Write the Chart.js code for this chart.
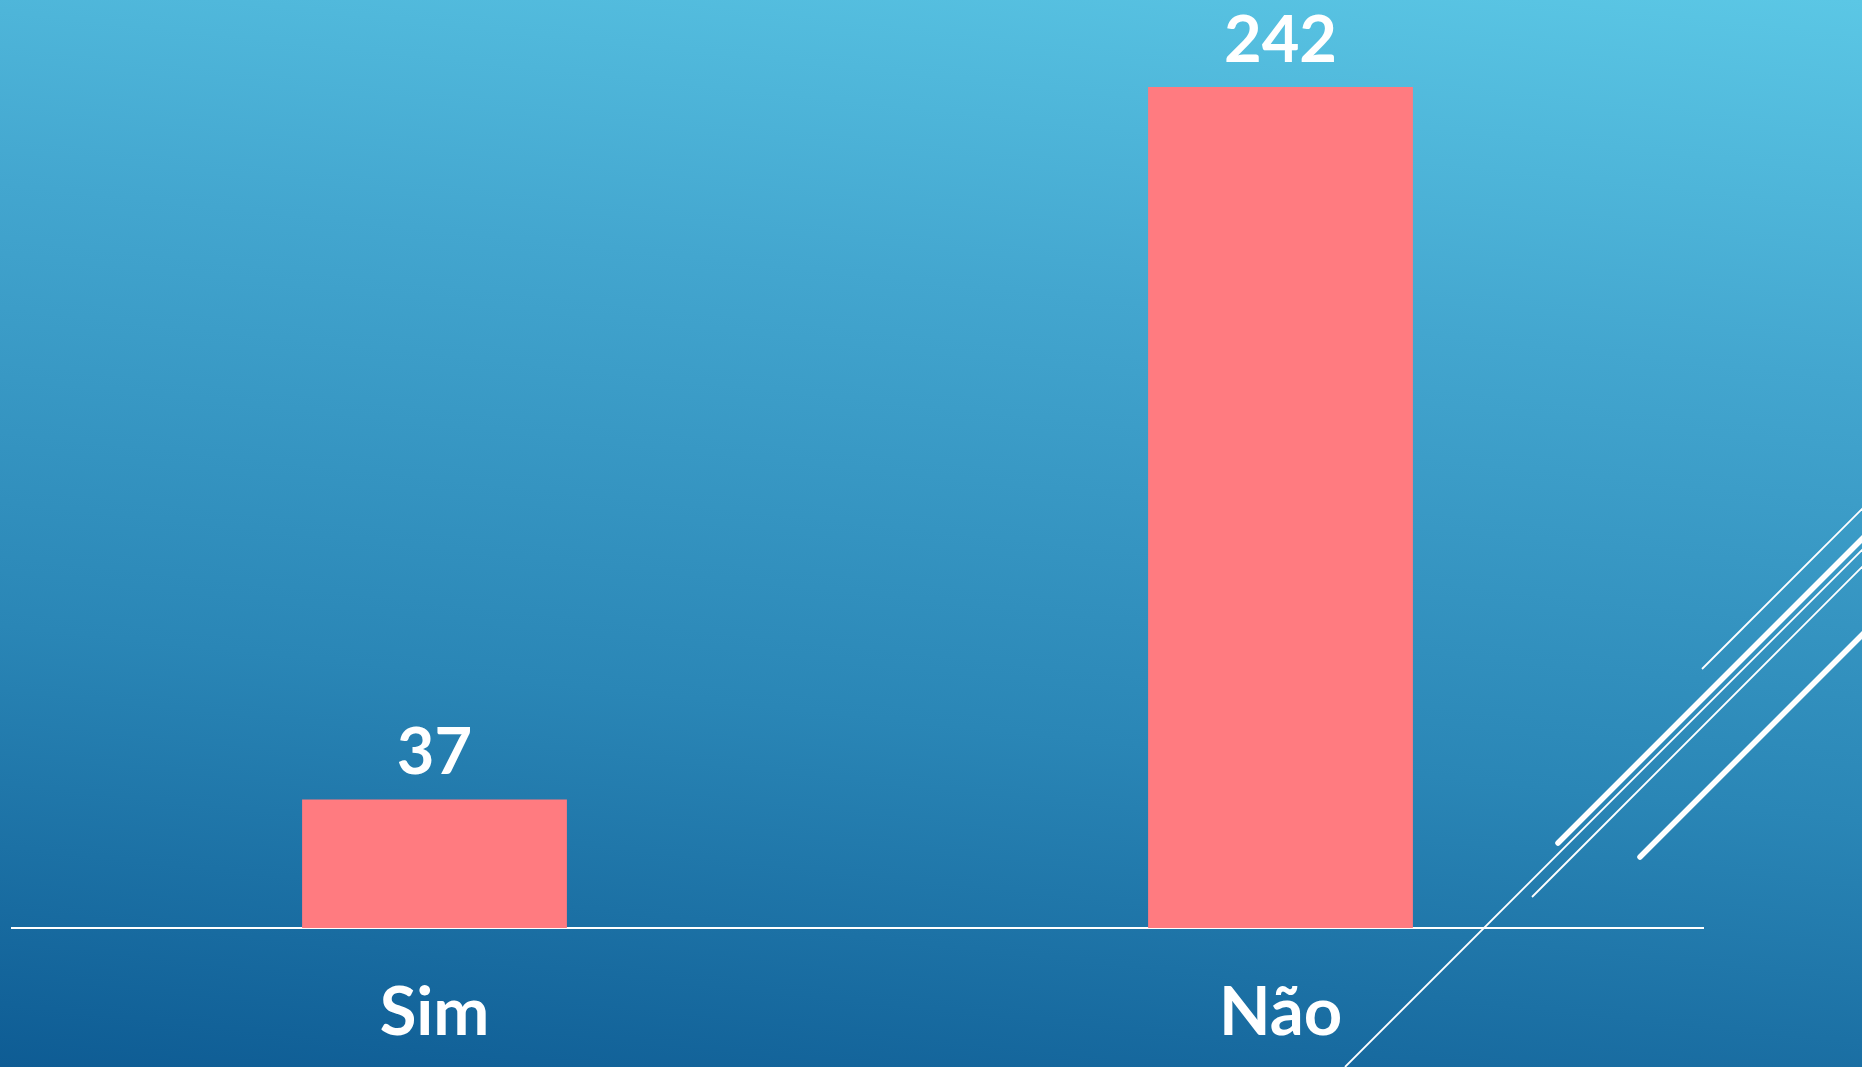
<!DOCTYPE html>
<html>
<head>
<meta charset="utf-8">
<script src="https://cdn.jsdelivr.net/npm/chart.js@4/dist/chart.umd.min.js"></script>
<style>
  html, body { margin: 0; padding: 0; overflow: hidden; }
  body {
    width: 1862px; height: 1067px;
    background: linear-gradient(6deg, #0e5c94 0%, #2a86b6 35%, #43a6cf 70%, #5bc7e5 100%);
  }
  #wrap { position: relative; width: 1862px; height: 1067px; }
</style>
</head>
<body>
<div id="wrap"><canvas id="c"></canvas></div>
<script>
const categories = ["Sim", "Não"];
const counts = [37, 242];

const decoLines = {
  id: 'decoLines',
  beforeDraw(chart) {
    const ctx = chart.ctx;
    const segs = [
      [1702, 669, 1866, 505, 1.8, 'butt'],
      [1558, 843, 1866, 535, 5.5, 'round'],
      [1345, 1067, 1866, 546, 1.8, 'butt'],
      [1532, 897, 1866, 563, 1.8, 'butt'],
      [1640, 857, 1866, 631, 5.5, 'round']
    ];
    ctx.save();
    ctx.strokeStyle = '#ffffff';
    segs.forEach(s => {
      ctx.lineWidth = s[4];
      ctx.lineCap = s[5];
      ctx.beginPath();
      ctx.moveTo(s[0], s[1]);
      ctx.lineTo(s[2], s[3]);
      ctx.stroke();
    });
    ctx.restore();
  }
};

const valueLabels = {
  id: 'valueLabels',
  afterDatasetsDraw(chart) {
    const ctx = chart.ctx;
    const meta = chart.getDatasetMeta(0);
    ctx.save();
    ctx.fillStyle = '#ffffff';
    ctx.font = 'bold 65px Lato';
    ctx.textAlign = 'center';
    ctx.textBaseline = 'alphabetic';
    meta.data.forEach((bar, i) => {
      ctx.fillText(String(chart.data.datasets[0].data[i]), bar.x, bar.y - 25);
    });
    ctx.restore();
  }
};

new Chart(document.getElementById('c'), {
  type: 'bar',
  data: {
    labels: categories,
    datasets: [{
      data: counts,
      backgroundColor: '#ff7b80',
      borderWidth: 0,
      categoryPercentage: 1,
      barPercentage: 0.313
    }]
  },
  options: {
    responsive: true,
    maintainAspectRatio: false,
    animation: false,
    layout: { padding: { left: 11.5, right: 158.5, top: 0, bottom: 0 } },
    plugins: { legend: { display: false }, tooltip: { enabled: false } },
    scales: {
      x: {
        grid: { display: false, drawTicks: false },
        border: { display: true, color: '#ffffff', width: 2 },
        ticks: {
          color: '#ffffff',
          font: { family: 'Lato', weight: 'bold', size: 67 },
          padding: 45
        },
        afterFit(scale) { scale.height = 139; }
      },
      y: {
        display: false,
        min: 0,
        max: 267
      }
    }
  },
  plugins: [decoLines, valueLabels]
});
</script>
</body>
</html>
